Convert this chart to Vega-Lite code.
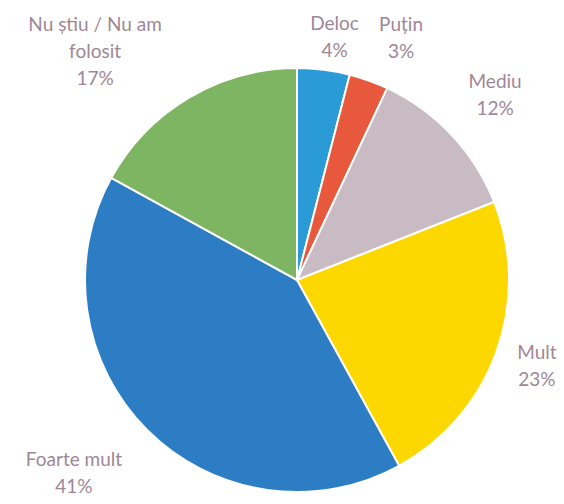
{
  "$schema": "https://vega.github.io/schema/vega-lite/v6.json",
  "width": 424,
  "height": 424,
  "autosize": "none",
  "padding": {"left": 85, "top": 68, "right": 55, "bottom": 12},
  "background": "white",
  "config": {
    "view": {"stroke": null},
    "text": {"font": "Lato", "fontSize": 19, "lineHeight": 27, "color": "#9e8795", "align": "center", "baseline": "middle"}
  },
  "data": {
    "values": [
      {"idx": 1, "category": "Deloc", "pct": 4},
      {"idx": 2, "category": "Puțin", "pct": 3},
      {"idx": 3, "category": "Mediu", "pct": 12},
      {"idx": 4, "category": "Mult", "pct": 23},
      {"idx": 5, "category": "Foarte mult", "pct": 41},
      {"idx": 6, "category": "Nu știu / Nu am folosit", "pct": 17}
    ]
  },
  "transform": [
    {"stack": "pct", "groupby": [], "sort": [{"field": "idx", "order": "ascending"}], "as": ["start", "end"]},
    {"calculate": "(datum.start + datum.end) / 2", "as": "mid"},
    {"calculate": "datum.category == 'Nu știu / Nu am folosit' ? ['Nu știu / Nu am', 'folosit', datum.pct + '%'] : [datum.category, datum.pct + '%']", "as": "label"}
  ],
  "encoding": {
    "theta": {"field": "mid", "type": "quantitative", "scale": {"domain": [0, 100]}},
    "text": {"field": "label"}
  },
  "layer": [
    {
      "mark": {"type": "arc", "outerRadius": 212, "stroke": "white", "strokeWidth": 2},
      "encoding": {
        "theta": {"field": "start", "type": "quantitative", "scale": {"domain": [0, 100]}},
        "theta2": {"field": "end"},
        "text": null,
        "color": {
          "field": "category",
          "type": "nominal",
          "scale": {
            "domain": ["Deloc", "Puțin", "Mediu", "Mult", "Foarte mult", "Nu știu / Nu am folosit"],
            "range": ["#2b9bd8", "#e8583c", "#c8bbc3", "#fdd800", "#2c7dc4", "#7db562"]
          },
          "legend": null
        }
      }
    },
    {
      "transform": [{"filter": "datum.category == 'Deloc'"}],
      "mark": {"type": "text", "radius": 244, "dx": 7, "dy": -13.5}
    },
    {
      "transform": [{"filter": "datum.category == 'Puțin'"}],
      "mark": {"type": "text", "radius": 257, "dx": 17, "dy": -13.5}
    },
    {
      "transform": [{"filter": "datum.category == 'Mediu'"}],
      "mark": {"type": "text", "radius": 269, "dx": 2, "dy": -13.5}
    },
    {
      "transform": [{"filter": "datum.category == 'Mult'"}],
      "mark": {"type": "text", "radius": 255, "dx": 0, "dy": -13.5}
    },
    {
      "transform": [{"filter": "datum.category == 'Foarte mult'"}],
      "mark": {"type": "text", "radius": 273, "dx": -30, "dy": -13.5}
    },
    {
      "transform": [{"filter": "datum.category == 'Nu știu / Nu am folosit'"}],
      "mark": {"type": "text", "radius": 267, "dx": -66, "dy": -25}
    }
  ]
}
